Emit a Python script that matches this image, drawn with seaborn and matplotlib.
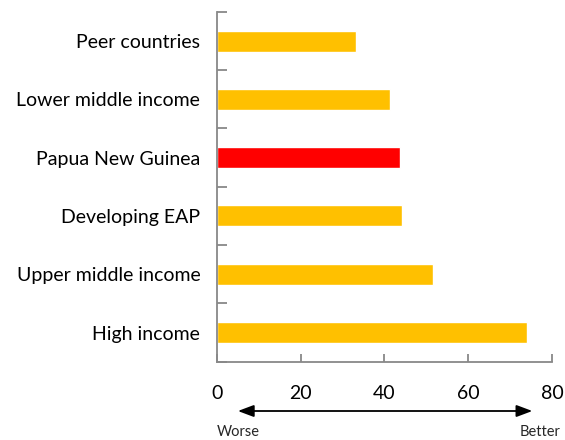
import matplotlib
matplotlib.use("Agg")
import matplotlib.pyplot as plt
import seaborn as sns
import pandas as pd
from matplotlib.ticker import FixedLocator

categories = ["Peer countries", "Lower middle income", "Papua New Guinea",
              "Developing EAP", "Upper middle income", "High income"]
values = [33.1, 41.2, 43.6, 44.1, 51.7, 74.1]
highlight = "Papua New Guinea"
xticks = [0, 20, 40, 60, 80]

sns.set_theme(style="white")
plt.rcParams['font.family'] = ['Lato', 'DejaVu Sans']

df = pd.DataFrame({"category": categories, "value": values})
palette = {c: ("#FF0000" if c == highlight else "#FFC000") for c in categories}

fig = plt.figure(figsize=(5.65, 4.4), dpi=100)
ax = fig.add_axes([0.384, 0.178, 0.593, 0.795])
sns.barplot(data=df, y="category", x="value", hue="category", palette=palette,
            order=categories, orient="h", width=0.36, legend=False, ax=ax,
            saturation=1)

ax.set_xlim(0, 80)
ax.set_ylim(len(categories) - 0.5, -0.5)
ax.set_xticks(xticks)
ax.set_xlabel("")
ax.set_ylabel("")
for s in ["top", "right"]:
    ax.spines[s].set_visible(False)
for s in ["left", "bottom"]:
    ax.spines[s].set_color("#888888")
    ax.spines[s].set_linewidth(1.3)

ax.yaxis.set_minor_locator(FixedLocator([i - 0.5 for i in range(len(categories) + 1)]))
ax.tick_params(axis="y", which="major", length=0, pad=12, labelsize=14, colors="black")
ax.tick_params(axis="y", which="minor", length=7, width=1.3, direction="in", color="#888888", left=True)
ax.tick_params(axis="x", which="major", length=6, width=1.3, direction="in", color="#888888",
               pad=17, labelsize=14, labelcolor="black", bottom=True)

ax.annotate("", xy=(75.3, -0.141), xytext=(5.0, -0.141),
            xycoords=ax.get_xaxis_transform(), textcoords=ax.get_xaxis_transform(),
            arrowprops=dict(arrowstyle="<|-|>,head_length=0.8,head_width=0.3",
                            color="black", lw=1.3, shrinkA=0, shrinkB=0),
            annotation_clip=False)
ax.text(0, -0.2, "Worse", transform=ax.get_xaxis_transform(), ha="left", va="center", fontsize=10.5)
ax.text(82, -0.2, "Better", transform=ax.get_xaxis_transform(), ha="right", va="center", fontsize=10.5)

fig.savefig("out.png", dpi=100)
